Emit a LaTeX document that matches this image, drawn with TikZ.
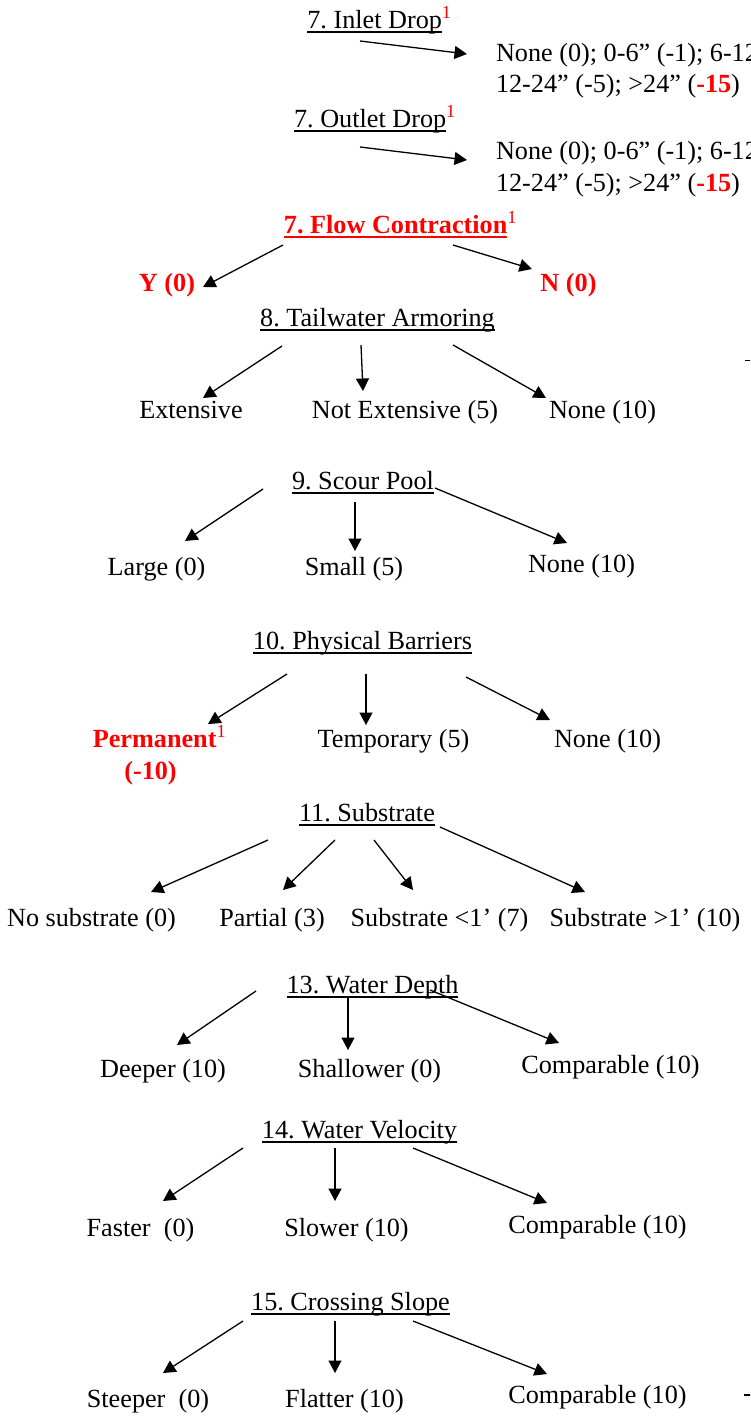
\documentclass[tikz,border=0pt]{standalone}
\usepackage{fontspec}
\setmainfont{Liberation Serif}
\usetikzlibrary{arrows.meta}
\frenchspacing
\newcommand\supone{\textsuperscript{\color{red}1}}
\newsavebox\ulbox
\newcommand\ulx[1]{\sbox\ulbox{#1}\rlap{\rule[-4.5pt]{\wd\ulbox}{1.4pt}}\usebox\ulbox}
\begin{document}
\begin{tikzpicture}[x=1pt,y=-1pt,
  every node/.style={inner sep=0pt,outer sep=0pt,font=\fontsize{26.2pt}{31.5pt}\selectfont},
  lbl/.style={anchor=base},
  lft/.style={anchor=base west},
  redb/.style={anchor=base,text=red,font=\fontsize{26.2pt}{31.5pt}\selectfont\bfseries},
  arr/.style={line width=1.3pt,-{Triangle[length=12.5pt,width=13pt]}}]
\useasboundingbox (0,0) rectangle (750,1419);
\clip (0,0) rectangle (750,1419);

% 7. Inlet Drop
\node[lbl] (inlet) at (379.5,28) {\ulx{7. Inlet Drop}\supone};
\node[lft] (inA) at (496,61) {None (0); 0-6” (-1); 6-12” (-3);};
\node[lft] (inB) at (496,92.5) {12-24” (-5); >24” ({\color{red}\bfseries-15})};
\coordinate (a1s) at (360,41);
\coordinate (a1e) at (467,54);
\draw[arr] (a1s) -- (a1e);

% 7. Outlet Drop
\node[lbl] (outlet) at (375,127) {\ulx{7. Outlet Drop}\supone};
\node[lft] (outA) at (496,159.5) {None (0); 0-6” (-1); 6-12” (-3);};
\node[lft] (outB) at (496,191.5) {12-24” (-5); >24” ({\color{red}\bfseries-15})};
\coordinate (a2s) at (360,147);
\coordinate (a2e) at (467,160);
\draw[arr] (a2s) -- (a2e);

% 7. Flow Contraction
\node[redb] (flow) at (400.5,233) {\ulx{7. Flow Contraction}\textsuperscript{\mdseries 1}};
\node[redb] (fy) at (167,291) {Y (0)};
\node[redb] (fn) at (568.5,291) {N (0)};
\coordinate (f1s) at (283,245); \coordinate (f1e) at (203,287);
\coordinate (f2s) at (453,245); \coordinate (f2e) at (532,269);
\draw[arr] (f1s) -- (f1e);
\draw[arr] (f2s) -- (f2e);

% 8. Tailwater Armoring
\node[lbl] (tail) at (377.5,326) {\ulx{8. Tailwater Armoring}};
\node[lbl] (t1) at (191,418) {Extensive};
\node[lbl] (t2) at (405,418) {Not Extensive (5)};
\node[lbl] (t3) at (602.5,418) {None (10)};
\coordinate (t1s) at (282,346); \coordinate (t1e) at (203,398);
\coordinate (t2s) at (361,345); \coordinate (t2e) at (363,391);
\coordinate (t3s) at (453,345); \coordinate (t3e) at (546,398);
\draw[arr] (t1s) -- (t1e);
\draw[arr] (t2s) -- (t2e);
\draw[arr] (t3s) -- (t3e);

% 9. Scour Pool
\node[lbl] (scour) at (363,489) {\ulx{9. Scour Pool}};
\node[lbl] (s1) at (156.5,575) {Large (0)};
\node[lbl] (s2) at (354,575) {Small (5)};
\node[lbl] (s3) at (581.5,572) {None (10)};
\coordinate (s1s) at (263,489); \coordinate (s1e) at (185,541);
\coordinate (s2s) at (355,502); \coordinate (s2e) at (355,551);
\coordinate (s3s) at (435,488); \coordinate (s3e) at (567,543);
\draw[arr] (s1s) -- (s1e);
\draw[arr] (s2s) -- (s2e);
\draw[arr] (s3s) -- (s3e);

% 10. Physical Barriers
\node[lbl] (phys) at (362.5,649) {\ulx{10. Physical Barriers}};
\node[redb] (p1) at (159.5,747) {Permanent\textsuperscript{\mdseries 1}};
\node[redb] (p1b) at (150.5,779) {(-10)};
\node[lbl] (p2) at (393.5,747) {Temporary (5)};
\node[lbl] (p3) at (607.5,747) {None (10)};
\coordinate (p1s) at (287,674); \coordinate (p1e) at (208,724);
\coordinate (p2s) at (366,674); \coordinate (p2e) at (366,725);
\coordinate (p3s) at (466,677); \coordinate (p3e) at (550,720);
\draw[arr] (p1s) -- (p1e);
\draw[arr] (p2s) -- (p2e);
\draw[arr] (p3s) -- (p3e);

% 11. Substrate
\node[lbl] (sub) at (367,821) {\ulx{11. Substrate}};
\node[lbl] (b1) at (91.5,926) {No substrate (0)};
\node[lbl] (b2) at (272,926) {Partial (3)};
\node[lbl] (b3) at (439.5,926) {Substrate <1’ (7)};
\node[lbl] (b4) at (645,926) {Substrate >1’ (10)};
\coordinate (b1s) at (268,840); \coordinate (b1e) at (151,892);
\coordinate (b2s) at (335,840); \coordinate (b2e) at (283,890);
\coordinate (b3s) at (374,840); \coordinate (b3e) at (413,890);
\coordinate (b4s) at (440,827); \coordinate (b4e) at (585,892);
\draw[arr] (b1s) -- (b1e);
\draw[arr] (b2s) -- (b2e);
\draw[arr] (b3s) -- (b3e);
\draw[arr] (b4s) -- (b4e);

% 13. Water Depth
\node[lbl] (depth) at (372.5,993) {\ulx{13. Water Depth}};
\node[lbl] (d1) at (163,1077) {Deeper (10)};
\node[lbl] (d2) at (369.5,1077) {Shallower (0)};
\node[lbl] (d3) at (610.5,1073) {Comparable (10)};
\coordinate (d1s) at (256,991); \coordinate (d1e) at (177,1045);
\coordinate (d2s) at (348,998); \coordinate (d2e) at (348,1050);
\coordinate (d3s) at (430,990); \coordinate (d3e) at (559,1043);
\draw[arr] (d1s) -- (d1e);
\draw[arr] (d2s) -- (d2e);
\draw[arr] (d3s) -- (d3e);

% 14. Water Velocity
\node[lbl] (vel) at (359.5,1138) {\ulx{14. Water Velocity}};
\node[lbl] (v1) at (140.5,1236) {Faster\ \ (0)};
\node[lbl] (v2) at (346.5,1236) {Slower (10)};
\node[lbl] (v3) at (597.5,1233) {Comparable (10)};
\coordinate (v1s) at (243,1148); \coordinate (v1e) at (163,1201);
\coordinate (v2s) at (335,1148); \coordinate (v2e) at (335,1201);
\coordinate (v3s) at (413,1148); \coordinate (v3e) at (547,1203);
\draw[arr] (v1s) -- (v1e);
\draw[arr] (v2s) -- (v2e);
\draw[arr] (v3s) -- (v3e);

% 15. Crossing Slope
\node[lbl] (slope) at (350.5,1310) {\ulx{15. Crossing Slope}};
\node[lbl] (c1) at (148,1407) {Steeper\ \ (0)};
\node[lbl] (c2) at (344.5,1407) {Flatter (10)};
\node[lbl] (c3) at (597.5,1403) {Comparable (10)};
\coordinate (c1s) at (243,1321); \coordinate (c1e) at (163,1373);
\coordinate (c2s) at (335,1321); \coordinate (c2e) at (335,1373);
\coordinate (c3s) at (413,1321); \coordinate (c3e) at (547,1374);
\draw[arr] (c1s) -- (c1e);
\draw[arr] (c2s) -- (c2e);
\draw[arr] (c3s) -- (c3e);

% cut-off marks at right edge
\coordinate (m1s) at (745,360.5); \coordinate (m1e) at (751,360.5);
\coordinate (m2s) at (744,1395); \coordinate (m2e) at (751,1395);
\draw[line width=1.3pt] (m1s) -- (m1e);
\draw[line width=1.3pt] (m2s) -- (m2e);
\end{tikzpicture}
\end{document}
